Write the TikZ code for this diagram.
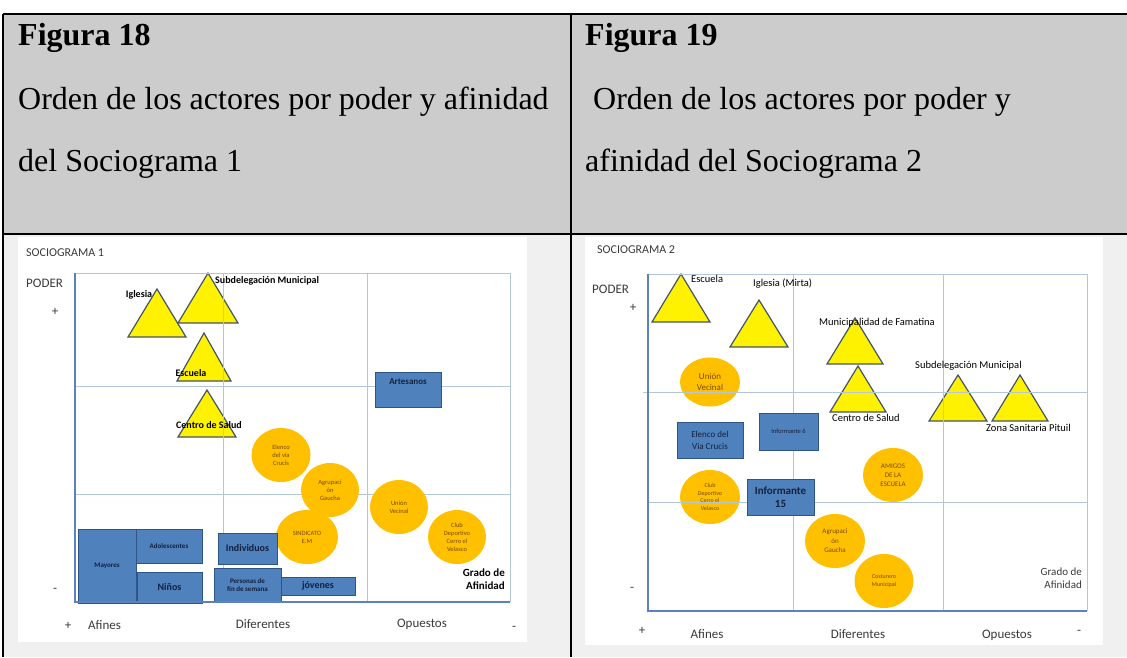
\documentclass[tikz,border=0pt]{standalone}
\usepackage{fontspec}
\setmainfont{Liberation Serif}
\newfontfamily\chartfont{Carlito}
\usepackage{tikz}
\usetikzlibrary{calc}
\usetikzlibrary{positioning}
\usetikzlibrary{shapes}
\definecolor{hdrgray}{HTML}{CCCCCC}
\definecolor{panelgray}{HTML}{F0F0F0}
\definecolor{gridline}{HTML}{B4C6DC}
\definecolor{axisblue}{HTML}{5B82BE}
\definecolor{boxblue}{HTML}{4F81BD}
\definecolor{boxedge}{HTML}{2F5588}
\definecolor{boxtext}{HTML}{14213D}
\definecolor{circfill}{HTML}{FFC000}
\definecolor{circtext}{HTML}{7A4A00}
\definecolor{triedge}{HTML}{44546A}
\definecolor{axtext}{HTML}{3A3A3A}
\tikzset{
  hdr/.style = {anchor=base west, inner sep=0pt, font=\fontsize{32}{38}\selectfont},
  hdrbold/.style = {hdr, font=\bfseries\fontsize{32}{38}\selectfont},
  axlbl/.style = {inner sep=0pt, text=axtext, font=\chartfont\fontsize{13}{15}\selectfont},
  trilbl/.style = {inner sep=0pt, font=\chartfont\bfseries\fontsize{10}{12}\selectfont},
  trilbl_r/.style = {trilbl, anchor=west, font=\chartfont\fontsize{10.5}{12}\selectfont},
  actor_t/.style = {draw=triedge, fill=yellow, line width=1.2pt},          % triangle actor
  actor_c/.style = {ellipse, fill=circfill, inner sep=0pt, align=center,
    text=circtext, font=\chartfont\fontsize{6.5}{8}\selectfont},           % circle actor
  actor_r/.style = {rectangle, draw=boxedge, fill=boxblue, line width=1pt,
    inner sep=0pt, align=center, text=boxtext,
    font=\chartfont\bfseries\fontsize{7}{8.5}\selectfont},                 % box actor
  gridln/.style = {draw=gridline, line width=1pt},
  axisln/.style = {draw=axisblue, line width=2pt}
}

\begin{document}
\begin{tikzpicture}[x=1pt,y=-1pt]
\useasboundingbox (0,0) rectangle (1127,657);
% table frame
\fill[white] (0,0) rectangle (1127,657);
\fill[hdrgray] (3,14) rectangle (1127,234);
\fill[panelgray] (3,234) rectangle (1127,657);
\draw[line width=1.5pt] (3,14) -- (1127,14);
\draw[line width=1.5pt] (3,234) -- (1127,234);
\draw[line width=1.5pt] (3,14) -- (3,657);
\draw[line width=1.5pt] (571,14) -- (571,657);

\node[hdrbold] (figA) at (18,45) {Figura 18};
\node[hdr] (titA1) at (18,109) {Orden de los actores por poder y afinidad};
\node[hdr] (titA2) at (18,171) {del Sociograma 1};
\node[hdrbold] (figB) at (585,45) {Figura 19};
\node[hdr] (titB1) at (593,109) {Orden de los actores por poder y};
\node[hdr] (titB2) at (585,171) {afinidad del Sociograma 2};

\fill[white] (18,237) rectangle (527,642);
\fill[white] (585,237) rectangle (1103,645);

%%% Sociograma 1
\node[axlbl, anchor=west, font=\chartfont\fontsize{12}{14}\selectfont] (socA) at (26,253) {SOCIOGRAMA 1};
\node[axlbl, anchor=west] (poderA) at (26,283) {PODER};
\node[axlbl] (masA) at (55,312) {+};
\node[axlbl] (menosA) at (55,590) {-};
\node[axlbl] (masxA) at (68,626) {+};
\node[axlbl, anchor=west] (afinesA) at (88,625) {Afines};
\node[axlbl] (difA) at (263,624) {Diferentes};
\node[axlbl] (opA) at (422,624) {Opuestos};
\node[axlbl] (menosxA) at (514,628) {-};

\draw[actor_t] (157,289) -- ++(29,48) -- ++(-58,0) -- cycle;
\draw[actor_t] (208,273) -- ++(30,50) -- ++(-60,0) -- cycle;
\draw[actor_t] (204,333) -- ++(27,48) -- ++(-54,0) -- cycle;
\draw[actor_t] (207,390) -- ++(29,47) -- ++(-58,0) -- cycle;

\draw[gridln] (75,273) -- (510,273) -- (510,602);
\draw[gridln] (223,273) -- (223,602);
\draw[gridln] (367,273) -- (367,602);
\draw[gridln] (75,386) -- (511,386);
\draw[gridln] (75,494) -- (510,494);

\node[actor_c, minimum width=59, minimum height=54] (elencoA) at (281,455) {Elenco\\del vía\\Crucis};
\node[actor_c, minimum width=58, minimum height=54] (agrupA) at (330,490) {Agrupaci\\ón\\Gaucha};
\node[actor_c, minimum width=62, minimum height=54] (sindA) at (307,537) {SINDICATO\\E.M};
\node[actor_c, minimum width=58, minimum height=54] (unionA) at (399,507) {Unión\\Vecinal};
\node[actor_c, minimum width=58, minimum height=54] (clubA) at (457,537) {Club\\Deportivo\\Cerro el\\Velasco};

\node[actor_r, minimum width=58, minimum height=74] (mayA) at (107,566) {Mayores};
\node[actor_r, minimum width=66, minimum height=34] (adolA) at (169,546) {Adolescentes};
\node[actor_r, minimum width=65, minimum height=31, font=\chartfont\bfseries\fontsize{10}{12}\selectfont] (ninA) at (169.5,587.5) {Niños};
\node[actor_r, minimum width=59, minimum height=31, font=\chartfont\bfseries\fontsize{10}{12}\selectfont] (indA) at (247.5,548.5) {Individuos};
\node[actor_r, minimum width=74, minimum height=18, font=\chartfont\bfseries\fontsize{10}{12}\selectfont] (jovA) at (318,586) {jóvenes};
\node[actor_r, minimum width=67, minimum height=34] (persA) at (247.5,585) {Personas de\\fin de semana};
\node[actor_r, minimum width=66, minimum height=35, font=\chartfont\bfseries\fontsize{9}{11}\selectfont] (artA) at (408,389.5) {Artesanos\\[4pt]};

\draw[axisln] (75,273) -- (75,602) -- (510,602);

\node[trilbl] (iglA) at (139,295) {Iglesia};
\node[trilbl, anchor=west] (subA) at (215,281) {Subdelegación Municipal};
\node[trilbl] (escA) at (191,373) {Escuela};
\node[trilbl] (cenA) at (209,425) {Centro de Salud};
\node[trilbl, anchor=east, align=right, font=\chartfont\bfseries\fontsize{11}{13}\selectfont] (gradA) at (505,579.5) {Grado de\\Afinidad};

%%% Sociograma 2
\node[axlbl, anchor=west, font=\chartfont\fontsize{12}{14}\selectfont] (socB) at (597,250) {SOCIOGRAMA 2};
\node[axlbl, anchor=west] (poderB) at (592,289) {PODER};
\node[axlbl] (masB) at (633,308) {+};
\node[axlbl] (menosB) at (632,589) {-};
\node[axlbl] (masxB) at (642,631) {+};
\node[axlbl] (afinesB) at (707,634) {Afines};
\node[axlbl] (difB) at (858,634) {Diferentes};
\node[axlbl] (opB) at (1007,635) {Opuestos};
\node[axlbl] (menosxB) at (1079,632) {-};

\node[actor_c, minimum width=60, minimum height=49, font=\chartfont\fontsize{9}{11}\selectfont] (unionB) at (710,382) {Unión\\Vecinal};
\node[actor_c, minimum width=60, minimum height=54, font=\chartfont\fontsize{6}{7.5}\selectfont] (clubB) at (710,497) {Club\\Deportivo\\Cerro el\\Velasco};
\node[actor_c, minimum width=60, minimum height=54, font=\chartfont\fontsize{7}{9}\selectfont] (amigB) at (893,475) {AMIGOS\\DE LA\\ESCUELA};
\node[actor_c, minimum width=60, minimum height=54, font=\chartfont\fontsize{7}{9.5}\selectfont] (agrupB) at (835,541) {Agrupaci\\ón\\Gaucha};
\node[actor_c, minimum width=59, minimum height=54, font=\chartfont\fontsize{6}{8}\selectfont] (costB) at (884,581) {Costurero\\Municipal};

\draw[actor_t] (681,274) -- ++(29,48) -- ++(-58,0) -- cycle;
\draw[actor_t] (759,300) -- ++(29,47) -- ++(-58,0) -- cycle;
\draw[actor_t] (855,318) -- ++(28,46) -- ++(-56,0) -- cycle;
\draw[actor_t] (858,366) -- ++(28,46) -- ++(-56,0) -- cycle;
\draw[actor_t] (958,375) -- ++(29,46) -- ++(-58,0) -- cycle;
\draw[actor_t] (1020,375) -- ++(28,46) -- ++(-56,0) -- cycle;

\draw[gridln] (648,274) -- (1087,274) -- (1087,611);
\draw[gridln] (793,274) -- (793,611);
\draw[gridln] (943,274) -- (943,611);
\draw[gridln] (643,392) -- (1087,392);
\draw[gridln] (648,502) -- (1087,502);

\node[actor_r, minimum width=66, minimum height=36, font=\chartfont\fontsize{9}{12}\selectfont] (elencoB) at (710,440) {Elenco del\\Via Crucis};
\node[actor_r, minimum width=59, minimum height=37, font=\chartfont\fontsize{6.5}{8}\selectfont] (inf6B) at (788.5,431.5) {Informante 6};
\node[actor_r, minimum width=67, minimum height=36, font=\chartfont\bfseries\fontsize{11}{13}\selectfont] (inf15B) at (780.5,497) {Informante\\15};

\draw[axisln] (648,274) -- (648,611) -- (1087,611);

\node[trilbl_r] (escB) at (691,279) {Escuela};
\node[trilbl_r] (iglB) at (753,284) {Iglesia (Mirta)};
\node[trilbl_r] (munB) at (819,323) {Municipalidad de Famatina};
\node[trilbl_r] (cenB) at (832,418) {Centro de Salud};
\node[trilbl_r] (subB) at (915,366) {Subdelegación Municipal};
\node[trilbl_r] (zonB) at (986,428) {Zona Sanitaria Pituil};
\node[trilbl, anchor=east, align=right, text=axtext, font=\chartfont\fontsize{11}{13}\selectfont] (gradB) at (1082,578.5) {Grado de\\Afinidad};
\end{tikzpicture}
\end{document}
